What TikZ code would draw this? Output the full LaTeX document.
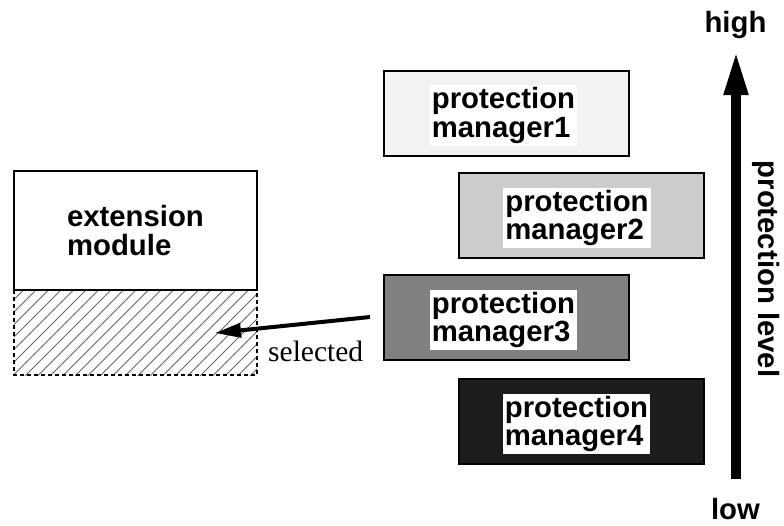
\documentclass[tikz,border=0pt]{standalone}
\usepackage{fontspec}
\setmainfont{Liberation Serif}
\setsansfont{Liberation Sans}
\usetikzlibrary{arrows.meta}
\begin{document}
\begin{tikzpicture}[x=1pt,y=-1pt,
  bigfont/.style={font=\sffamily\bfseries\fontsize{29.3}{28.8}\selectfont},
  pmbox/.style={draw=black, line width=2pt, minimum width=245pt, minimum height=85pt, inner sep=0pt, outer sep=0pt},
  pmlabel/.style={bigfont, fill=white, inner sep=2pt, align=left},
  hatchline/.style={draw=black!60, line width=0.9pt},
  dashborder/.style={draw=black, line width=1.3pt, dash pattern=on 4pt off 3pt}]
\useasboundingbox (0,0) rectangle (784,525);

% protection managers
\node[pmbox, fill=black!5] (pm1) at (506.5,113.5) {};
\node[pmlabel] (pm1t) at (503.5,115.5) {protection\\manager1};
\node[pmbox, fill=black!20] (pm2) at (581.5,215.5) {};
\node[pmlabel] (pm2t) at (577,218) {protection\\manager2};
\node[pmbox, fill=black!50] (pm3) at (506.5,317.5) {};
\node[pmlabel] (pm3t) at (503.5,320) {protection\\manager3};
\node[pmbox, fill=black!89] (pm4) at (581.5,421) {};
\node[pmlabel] (pm4t) at (576.5,424) {protection\\manager4};

% extension module
\node[draw=black, line width=2pt, fill=white, minimum width=243pt, minimum height=119pt,
      inner sep=0pt, outer sep=0pt, bigfont, align=left] (ext) at (135.5,230.5) {extension\\module};
\node[minimum width=243pt, minimum height=85pt, inner sep=0pt, outer sep=0pt] (sel) at (135.5,332.5) {};
\begin{scope}
  \clip (sel.north west) rectangle (sel.south east);
  \foreach \i in {-100,-87.5,...,270} {
    \draw[hatchline] (\i,376) -- ++(87,-87);
  }
\end{scope}
\draw[dashborder] (ext.south west) -- (sel.south west) -- (sel.south east) -- (ext.south east);
\draw[line width=2pt] (ext.south west) -- (ext.south east);

% selected arrow
\coordinate (selfrom) at (370,317);
\coordinate (selto) at (215,333);
\draw[line width=4pt, -{Triangle[length=26pt,width=14pt]}] (selfrom) -- (selto);
\node[font=\rmfamily\fontsize{29.5}{30}\selectfont, anchor=base west, inner sep=0pt] (seltxt) at (268,361) {selected};

% protection level axis
\coordinate (lo) at (736,479);
\coordinate (hi) at (736,50);
\draw[line width=10pt, -{Triangle[length=45pt,width=22pt]}] (lo) -- (hi);
\node[bigfont, anchor=base, inner sep=0pt] (high) at (735.5,32) {high};
\node[bigfont, anchor=base, inner sep=0pt] (low) at (735.5,519) {low};
\node[bigfont, rotate=-90, inner sep=0pt] (plevel) at (766.5,269) {protection level};
\end{tikzpicture}
\end{document}
